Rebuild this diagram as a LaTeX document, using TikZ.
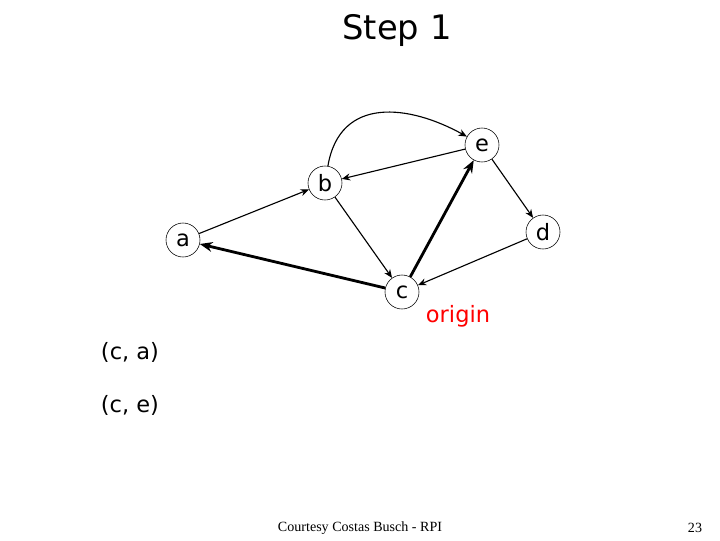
\documentclass[tikz,border=0pt]{standalone}
\usepackage{fontspec}
\setmainfont{DejaVu Sans}
\newfontfamily\footfont{Liberation Serif}
\tikzset{
  vertex/.style={circle,draw,fill=white,minimum size=0.85cm,inner sep=0pt,font=\fontsize{16}{18}\selectfont},
  edge/.style={-{Stealth[length=6pt,width=5pt]},line width=0.8pt},
  pathedge/.style={-{Stealth[length=9pt,width=7pt]},line width=2pt}
}
\usetikzlibrary{arrows.meta}
\begin{document}
\begin{tikzpicture}[x=0.025cm,y=-0.025cm]
        \useasboundingbox (0,0) rectangle (720,540);
        \node[font=\fontsize{24}{28}\selectfont] (title) at (397,30) {Step 1};
        \node[vertex] (a) at (183,240) {a};
        \node[vertex] (b) at (325,183) {b};
        \node[vertex] (e) at (482,145) {e};
        \node[vertex] (d) at (543,232) {d};
        \node[vertex] (c) at (402,292) {c};
        \draw[edge] (a) -- (b);
        \draw[edge] (e) -- (b);
        \draw[edge] (b) -- (c);
        \draw[edge] (e) -- (d);
        \draw[edge] (d) -- (c);
        \draw[edge] (b) .. controls (340,95) and (410,105) .. (e);
        \draw[pathedge] (c) -- (a);
        \draw[pathedge] (c) -- (e);
        \node[text=red,font=\fontsize{16}{18}\selectfont] (orig) at (458,316) {origin};
        \node[font=\fontsize{16}{18}\selectfont] (ca) at (130,352) {(c, a)};
        \node[font=\fontsize{16}{18}\selectfont] (ce) at (130,405) {(c, e)};
        \node[font=\footfont\fontsize{10}{12}\selectfont] (foot) at (360,528) {Courtesy Costas Busch - RPI};
        \node[font=\footfont\fontsize{10}{12}\selectfont] (page) at (695,528) {23};
\end{tikzpicture}
\end{document}
